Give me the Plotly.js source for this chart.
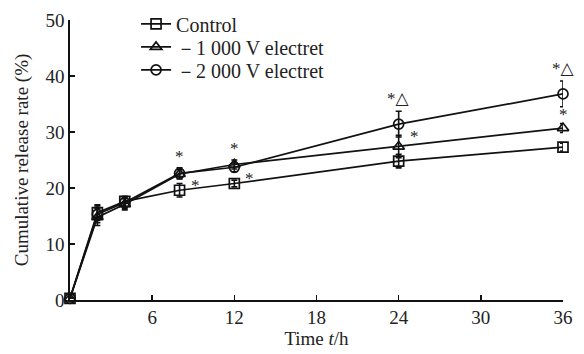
<!DOCTYPE html>
<html>
<head>
<meta charset="utf-8">
<script src="https://cdn.plot.ly/plotly-3.0.1.min.js"></script>
<style>html,body{margin:0;padding:0;background:#fff;}#chart{width:584px;height:354px;}</style>
</head>
<body>
<div id="chart"></div>
<script>
// Data
const timeH = [0, 2, 4, 8, 12, 24, 36];
const seriesNames = ["Control", "\uFF0D1 000 V electret", "\uFF0D2 000 V electret"];
const controlRate = [0.3, 15.6, 17.6, 19.6, 20.8, 24.8, 27.3];
const controlErr  = [0, 1.4, 0.9, 1.2, 0.6, 1.2, 0.7];
const v1000Rate   = [0.3, 14.8, 17.1, 22.5, 24.2, 27.4, 30.7];
const v1000Err    = [0, 1.5, 1.0, 0.8, 0.8, 2.0, 0.8];
const v2000Rate   = [0.3, 15.3, 17.4, 22.6, 23.7, 31.4, 36.8];
const v2000Err    = [0, 1.5, 1.0, 1.0, 0.8, 2.3, 2.3];
const xTicks = [6, 12, 18, 24, 30, 36];
const yTicks = [0, 10, 20, 30, 40, 50];
// significance marks: [series index, time index, text]
const sigMarks = [
  [0, 3, "*"], [0, 4, "*"],
  [2, 3, "*"], [1, 4, "*"],
  [2, 5, "*\u25B3"], [1, 5, "*"],
  [2, 6, "*\u25B3"], [1, 6, "*"]
];

const rates = [controlRate, v1000Rate, v2000Rate];
const errs = [controlErr, v1000Err, v2000Err];
const symbols = ["square-open", "triangle-up-open", "circle-open"];
const legendIds = ["legend", "legend2", "legend3"];
const font = "Liberation Serif, Times New Roman, serif";

const traces = rates.map((r, i) => ({
  x: timeH, y: r, name: seriesNames[i], type: "scatter", mode: "lines+markers",
  legend: legendIds[i],
  line: {color: "#111", width: 1.7},
  marker: {symbol: symbols[i], size: 10, color: "#111", line: {color: "#111", width: 1.7}},
  error_y: {type: "data", array: errs[i], visible: true, color: "#111", thickness: 1.6, width: 3},
  cliponaxis: false
}));

// annotation placement styles (pixel offsets) per mark
const offs = [
  {dx: 9, dy: 5, side: "right"}, {dx: 9, dy: 5, side: "right"},
  {dx: 0, dy: 0, side: "top"}, {dx: 0, dy: 0, side: "top"},
  {dx: 0, dy: 1, side: "top"}, {dx: 9, dy: 10, side: "right"},
  {dx: 0, dy: 1, side: "top"}, {dx: 0, dy: -2, side: "top"}
];
const annotations = sigMarks.map((m, k) => {
  const [s, t, txt] = m;
  const o = offs[k];
  const yv = o.side === "top" ? rates[s][t] + errs[s][t] : rates[s][t];
  return {
    x: timeH[t], y: yv, xref: "x", yref: "y", text: txt, showarrow: false,
    xshift: o.dx, yshift: o.dy,
    xanchor: o.side === "right" ? "left" : "center", yanchor: o.side === "top" ? "bottom" : "middle",
    font: {family: "Liberation Serif, DejaVu Sans, serif", size: 17, color: "#222"}
  };
});

const legendRowY = [0.986, 0.904, 0.822];
const legendBase = {x: 0.134, xanchor: "left", yanchor: "middle", bgcolor: "rgba(0,0,0,0)",
  font: {family: font, size: 20, color: "#222"}, itemwidth: 30};

const layout = {
  width: 584, height: 354,
  margin: {l: 70, r: 21, t: 20, b: 54, autoexpand: false},
  paper_bgcolor: "#fff", plot_bgcolor: "#fff",
  font: {family: font, size: 19, color: "#222"},
  showlegend: true,
  legend: Object.assign({}, legendBase, {y: legendRowY[0]}),
  legend2: Object.assign({}, legendBase, {y: legendRowY[1]}),
  legend3: Object.assign({}, legendBase, {y: legendRowY[2]}),
  xaxis: {range: [0, 36], tickvals: xTicks, ticktext: xTicks.map(String), showgrid: false, zeroline: false,
    showline: true, linecolor: "#111", linewidth: 1.6, ticks: "inside", ticklen: 5, tickwidth: 1.6, tickcolor: "#111",
    title: {text: "Time <i>t</i>/h", font: {family: font, size: 19}, standoff: 2},
    tickfont: {family: font, size: 19}},
  yaxis: {range: [0, 50], tickvals: yTicks, ticktext: yTicks.map(String), showgrid: false, zeroline: false,
    showline: true, linecolor: "#111", linewidth: 1.6, ticks: "inside", ticklen: 5, tickwidth: 1.6, tickcolor: "#111",
    title: {text: "Cumulative release rate (%)", font: {family: font, size: 19}, standoff: 12},
    tickfont: {family: font, size: 19}},
  annotations: annotations
};

Plotly.newPlot("chart", traces, layout, {displayModeBar: false, staticPlot: true});
</script>
</body>
</html>
